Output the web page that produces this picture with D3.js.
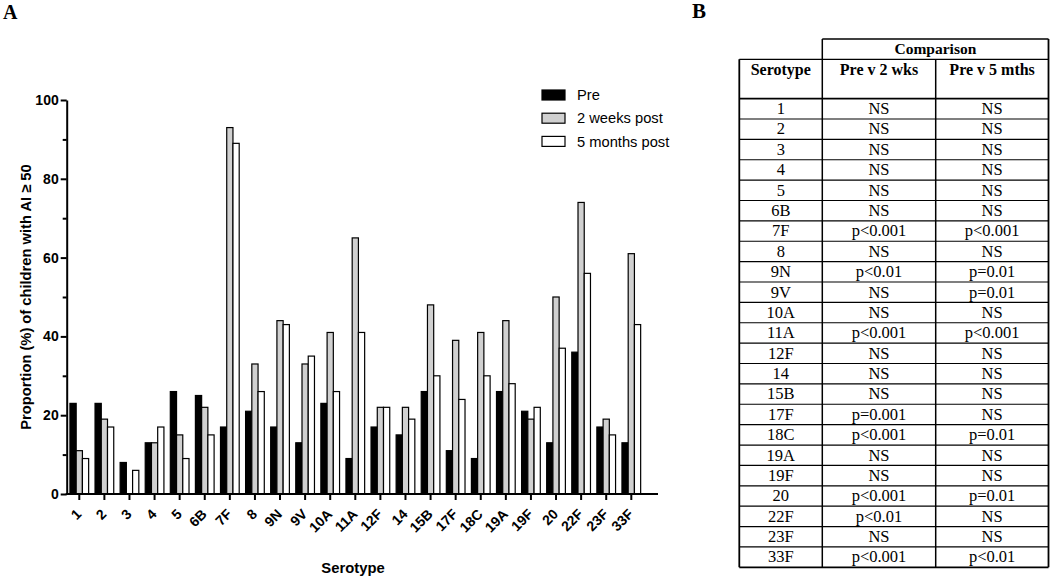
<!DOCTYPE html>
<html><head><meta charset="utf-8">
<script src="https://cdn.jsdelivr.net/npm/d3@7"></script>
<style>body{margin:0;background:#fff} svg{display:block}</style>
</head><body>
<svg id="c" width="1050" height="577"></svg>
<script>
const categories = ["1","2","3","4","5","6B","7F","8","9N","9V","10A","11A","12F","14","15B","17F","18C","19A","19F","20","22F","23F","33F"];
const seriesNames = ["Pre","2 weeks post","5 months post"];
const pre     = [23,23,8,13,26,25,17,21,17,13,23,9,17,15,26,11,9,26,21,13,36,17,13];
const weeks2  = [11,19,0,13,15,22,93,33,44,33,41,65,22,22,48,39,41,44,19,50,74,19,61];
const months5 = [9,17,6,17,9,15,89,26,43,35,26,41,22,19,30,24,30,28,22,37,56,15,43];
const yTicks = [0,20,40,60,80,100];
const yMinorTicks = [10,30,50,70,90];
const tableHeaders = ["Serotype","Pre v 2 wks","Pre v 5 mths"];
const cmp2wks  = ["NS","NS","NS","NS","NS","NS","p<0.001","NS","p<0.01","NS","NS","p<0.001","NS","NS","NS","p=0.001","p<0.001","NS","NS","p<0.001","p<0.01","NS","p<0.001"];
const cmp5mths = ["NS","NS","NS","NS","NS","NS","p<0.001","NS","p=0.01","p=0.01","NS","p<0.001","NS","NS","NS","NS","p=0.01","NS","NS","p=0.01","NS","NS","p<0.01"];

const seriesValues = [pre, weeks2, months5];
const seriesFill = ["#000000", "#d0d0d0", "#ffffff"];

const svg = d3.select("#c");
const sans = "Liberation Sans, Arial, sans-serif";
const serif = "Liberation Serif, Times New Roman, serif";

// ---- Panel A ----
const axisX0 = 66.7, axisX1 = 658, yTop = 100, yBot = 494;
const y = d3.scaleLinear().domain([0, 100]).range([yBot, yTop]);
const pi = 0.2547;
const x0 = d3.scaleBand().domain(categories).range([66.75, 643.85]).paddingInner(pi).paddingOuter(pi / 2);
const x1 = d3.scaleBand().domain(seriesNames).range([0, x0.bandwidth()]);

svg.append("text").attr("x", 3).attr("y", 19).attr("font-family", serif)
  .attr("font-weight", "bold").attr("font-size", 20).text("A");

const groups = svg.append("g").selectAll("g").data(categories).join("g")
  .attr("transform", d => `translate(${x0(d)},0)`);
groups.selectAll("rect").data((d, i) => seriesNames.map((s, k) => ({ s, k, v: seriesValues[k][i] })))
  .join("rect")
  .attr("x", d => x1(d.s))
  .attr("width", x1.bandwidth())
  .attr("y", d => y(d.v))
  .attr("height", d => y(0) - y(d.v))
  .attr("fill", d => seriesFill[d.k])
  .attr("stroke", "#000").attr("stroke-width", 1.2);

// y axis
const yAxisG = svg.append("g").attr("transform", `translate(${axisX0},0)`)
  .call(d3.axisLeft(y).tickValues(yTicks).tickSize(6).tickPadding(2).tickSizeOuter(0));
yAxisG.select(".domain").attr("stroke-width", 2);
yAxisG.selectAll(".tick line").attr("stroke-width", 2);
yAxisG.selectAll(".tick text").attr("font-family", sans).attr("font-weight", "bold").attr("font-size", 14).attr("fill", "#000");
const yMinorG = svg.append("g").attr("transform", `translate(${axisX0},0)`)
  .call(d3.axisLeft(y).tickValues(yMinorTicks).tickSize(4).tickFormat(""));
yMinorG.select(".domain").remove();
yMinorG.selectAll(".tick line").attr("stroke-width", 2);

// x axis
const xAxisG = svg.append("g").attr("transform", `translate(0,${yBot})`)
  .call(d3.axisBottom(x0).tickSize(6).tickSizeOuter(0));
xAxisG.select(".domain").remove();
xAxisG.append("line").attr("x1", axisX0 - 1).attr("x2", axisX1).attr("y1", 0).attr("y2", 0)
  .attr("stroke", "#000").attr("stroke-width", 2);
xAxisG.selectAll(".tick line").attr("stroke-width", 2);
xAxisG.selectAll(".tick text")
  .attr("font-family", sans).attr("font-weight", "bold").attr("font-size", 14).attr("fill", "#000")
  .attr("text-anchor", "end").attr("x", 0).attr("y", 0).attr("dy", 0)
  .attr("transform", "translate(3,21) rotate(-45)");

// axis titles
svg.append("text").attr("x", 353).attr("y", 573).attr("text-anchor", "middle")
  .attr("font-family", sans).attr("font-weight", "bold").attr("font-size", 14.8).text("Serotype");
svg.append("text").attr("transform", "translate(30.5,297) rotate(-90)").attr("text-anchor", "middle")
  .attr("font-family", sans).attr("font-weight", "bold").attr("font-size", 14.7)
  .text("Proportion (%) of children with AI \u2265 50");

// legend
const leg = svg.append("g").attr("transform", "translate(542,95)");
const legItems = leg.selectAll("g").data(seriesNames).join("g")
  .attr("transform", (d, i) => `translate(0,${i * 23.2})`);
legItems.append("rect").attr("x", 0).attr("y", -5).attr("width", 23).attr("height", 10)
  .attr("fill", (d, i) => seriesFill[i]).attr("stroke", "#000").attr("stroke-width", 1.2);
legItems.append("text").attr("x", 35).attr("y", 0).attr("dy", "0.35em")
  .attr("font-family", sans).attr("font-size", 14.7).attr("fill", "#000").text(d => d);

// ---- Panel B (table) ----
svg.append("text").attr("x", 692).attr("y", 18).attr("font-family", serif)
  .attr("font-weight", "bold").attr("font-size", 21).text("B");

const colEdges = [739.3, 822.3, 935.7, 1048.5];
const tTop = 39, hTop = 59.3, rTop = 98.6, tBot = 567.3;
const rowY = d3.scaleBand().domain(categories).range([rTop, tBot]);
const tb = svg.append("g").attr("font-family", serif).attr("font-size", 16.5).attr("fill", "#000");
const line = (x1_, y1_, x2_, y2_, w) => tb.append("line").attr("x1", x1_).attr("y1", y1_).attr("x2", x2_).attr("y2", y2_)
  .attr("stroke", "#000").attr("stroke-width", w || 1.3);

// comparison header box
line(colEdges[1], tTop, colEdges[3], tTop);
line(colEdges[1], hTop, colEdges[3], hTop);
line(colEdges[0], hTop, colEdges[1], hTop);
tb.append("text").attr("x", (colEdges[1] + colEdges[3]) / 2).attr("y", 53.5).attr("text-anchor", "middle")
  .attr("font-weight", "bold").attr("font-size", 15.5).text("Comparison");
tableHeaders.forEach((h, i) => {
  tb.append("text").attr("x", (colEdges[i] + colEdges[i + 1]) / 2).attr("y", 74.5)
    .attr("text-anchor", "middle").attr("font-weight", "bold").attr("font-size", 16).text(h);
});
line(colEdges[0], rTop, colEdges[3], rTop, 1.8);
// row lines
categories.forEach((c, i) => {
  line(colEdges[0], rowY(c) + rowY.bandwidth(), colEdges[3], rowY(c) + rowY.bandwidth(), i === categories.length - 1 ? 1.8 : 1.2);
});
// verticals
line(colEdges[0], hTop, colEdges[0], tBot, 1.8);
line(colEdges[1], tTop, colEdges[1], tBot, 1.5);
line(colEdges[2], hTop, colEdges[2], tBot, 1.5);
line(colEdges[3], tTop, colEdges[3], tBot, 1.8);

const cols = [categories, cmp2wks, cmp5mths];
cols.forEach((arr, ci) => {
  tb.append("g").selectAll("text").data(arr).join("text")
    .attr("x", (colEdges[ci] + colEdges[ci + 1]) / 2)
    .attr("y", (d, i) => rowY(categories[i]) + 15.5)
    .attr("text-anchor", "middle").text(d => d);
});
</script>
</body></html>
